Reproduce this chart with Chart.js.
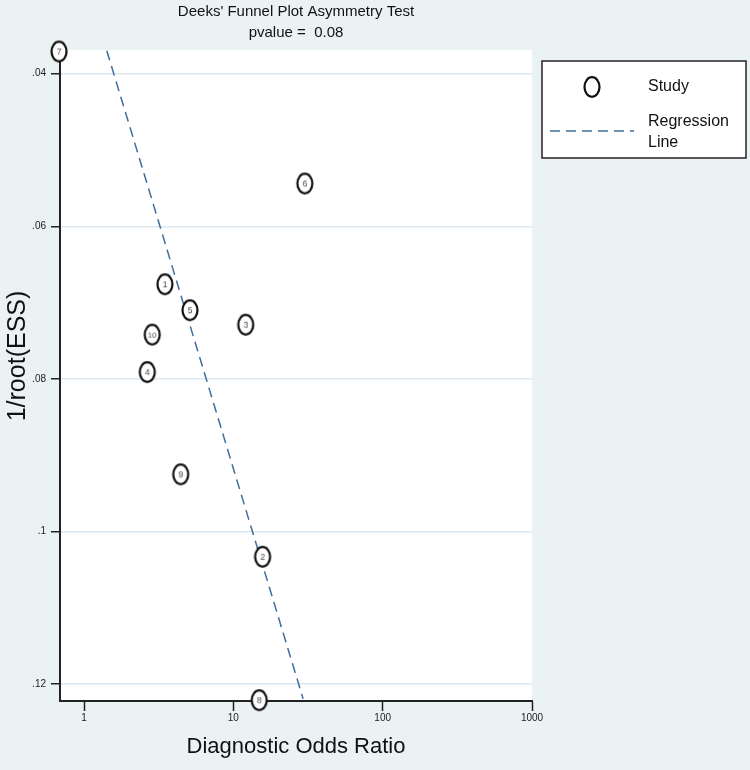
<!DOCTYPE html>
<html>
<head>
<meta charset="utf-8">
<script src="https://cdn.jsdelivr.net/npm/chart.js@4.4.1/dist/chart.umd.min.js"></script>
<style>
  html, body { margin: 0; padding: 0; background: #eaf2f4; }
  #wrap { width: 750px; height: 770px; }
</style>
</head>
<body>
<div id="wrap"><canvas id="myChart" width="750" height="770"></canvas></div>
<script>
// datos //
const studyIds = ['1', '2', '3', '4', '5', '6', '7', '8', '9', '10'];
const diagOddsRatio = [3.48, 15.7, 12.1, 2.65, 5.12, 30.1, 0.68, 14.9, 4.44, 2.86];
const invRootEss = [0.0676, 0.1033, 0.0729, 0.0791, 0.0710, 0.0544, 0.0371, 0.1221, 0.0925, 0.0742];
const regLineDor = [1.42, 29.3];
const regLineY = [0.0370, 0.1219];
const xTickValues = [1, 10, 100, 1000];
const xTickLabels = ['1', '10', '100', '1000'];
const yTickValues = [0.04, 0.06, 0.08, 0.10, 0.12];
const yTickLabels = ['.04', '.06', '.08', '.1', '.12'];

const fam = '"Liberation Sans", Arial, sans-serif';
const lineColor = '#3f6e9d';

// marcador: elipse con el numero del estudio //
function makeMarker(txt) {
    const c = document.createElement('canvas');
    c.width = 22; c.height = 26;
    const g = c.getContext('2d');
    g.beginPath();
    g.ellipse(11, 13, 7.5, 9.8, 0, 0, Math.PI * 2);
    g.fillStyle = '#ffffff';
    g.fill();
    g.lineWidth = 2.2;
    g.strokeStyle = '#111111';
    g.stroke();
    if (txt) {
        g.fillStyle = '#444444';
        g.font = (txt.length > 1 ? '7.5px ' : '8.5px ') + fam;
        g.textAlign = 'center';
        g.textBaseline = 'middle';
        g.fillText(txt, 11, 13.5);
    }
    return c;
}
const markers = studyIds.map(makeMarker);
const legendMarker = makeMarker('');

const studyPoints = diagOddsRatio.map((v, i) => ({ x: v, y: invRootEss[i] }));
const linePoints = regLineDor.map((v, i) => ({ x: v, y: regLineY[i] }));

const fondoPlugin = {
    id: 'fondo',
    beforeDraw(chart) {
        const { ctx, chartArea } = chart;
        ctx.save();
        ctx.fillStyle = '#eaf2f4';
        ctx.fillRect(0, 0, chart.width, chart.height);
        ctx.fillStyle = '#ffffff';
        ctx.fillRect(chartArea.left, chartArea.top, chartArea.right - chartArea.left, chartArea.bottom - chartArea.top);
        ctx.restore();
    }
};

// leyenda y titulo del eje y dibujados a mano //
const leyendaPlugin = {
    id: 'leyenda',
    afterDraw(chart) {
        const ctx = chart.ctx;
        ctx.save();
        ctx.fillStyle = '#ffffff';
        ctx.fillRect(542, 61, 204, 97);
        ctx.strokeStyle = '#222222';
        ctx.lineWidth = 1.5;
        ctx.strokeRect(542, 61, 204, 97);
        ctx.drawImage(legendMarker, 592 - 11, 87 - 13);
        ctx.beginPath();
        ctx.setLineDash([10, 6]);
        ctx.strokeStyle = lineColor;
        ctx.lineWidth = 1.5;
        ctx.moveTo(550, 131);
        ctx.lineTo(634, 131);
        ctx.stroke();
        ctx.setLineDash([]);
        ctx.fillStyle = '#111111';
        ctx.font = '16px ' + fam;
        ctx.textBaseline = 'middle';
        ctx.fillText('Study', 648, 87);
        ctx.fillText('Regression', 648, 122);
        ctx.fillText('Line', 648, 143);

        ctx.translate(18, 356);
        ctx.rotate(-Math.PI / 2);
        ctx.font = '25px ' + fam;
        ctx.textAlign = 'center';
        ctx.fillText('1/root(ESS)', 0, 0);
        ctx.restore();
    }
};

const ctx = document.getElementById('myChart');
new Chart(ctx, {
    type: 'scatter',
    data: {
        datasets: [
            {
                label: 'Study',
                data: studyPoints,
                pointStyle: c => markers[c.dataIndex],
                pointRadius: 9,
                pointHoverRadius: 9,
                clip: false,
                order: 1
            },
            {
                label: 'Regression Line',
                type: 'line',
                data: linePoints,
                borderColor: lineColor,
                borderWidth: 1.5,
                borderDash: [10, 6],
                pointRadius: 0,
                fill: false,
                order: 2
            }
        ]
    },
    options: {
        responsive: false,
        animation: false,
        events: [],
        layout: { padding: { left: 0, right: 218, top: 0, bottom: 0 } },
        plugins: {
            legend: { display: false },
            tooltip: { enabled: false },
            title: {
                display: true,
                fullSize: false,
                text: ["Deeks' Funnel Plot Asymmetry Test", 'pvalue =  0.08'],
                color: '#111111',
                font: { family: fam, size: 15, weight: 'normal', lineHeight: 1.38 },
                padding: { top: 2, bottom: 6.6 }
            }
        },
        scales: {
            x: {
                type: 'logarithmic',
                min: 0.69,
                max: 1000,
                afterFit: s => { s.height = 69; },
                afterBuildTicks: s => { s.ticks = xTickValues.map(v => ({ value: v })); },
                ticks: {
                    callback: (v, i) => xTickLabels[i],
                    color: '#222222',
                    font: { family: fam, size: 10 },
                    padding: 1,
                    maxRotation: 0,
                    autoSkip: false
                },
                grid: { drawOnChartArea: false, drawTicks: true, tickLength: 10, tickColor: '#222222', tickWidth: 1.5 },
                border: { display: true, color: '#222222', width: 2 },
                title: {
                    display: true,
                    text: 'Diagnostic Odds Ratio',
                    color: '#111111',
                    font: { family: fam, size: 22 },
                    padding: { top: 0, bottom: 10 }
                }
            },
            y: {
                type: 'linear',
                reverse: true,
                min: 0.0369,
                max: 0.1222,
                afterFit: s => { s.width = 60; },
                afterBuildTicks: s => { s.ticks = yTickValues.map(v => ({ value: v })); },
                ticks: {
                    callback: (v, i) => yTickLabels[i],
                    color: '#222222',
                    font: { family: fam, size: 10 },
                    padding: 5
                },
                grid: { color: '#dbeaf0', lineWidth: 1.5, drawTicks: true, tickLength: 9, tickColor: '#222222', tickWidth: 1.5 },
                border: { display: true, color: '#222222', width: 2 },
                title: { display: false }
            }
        }
    },
    plugins: [fondoPlugin, leyendaPlugin]
});
</script>
</body>
</html>
